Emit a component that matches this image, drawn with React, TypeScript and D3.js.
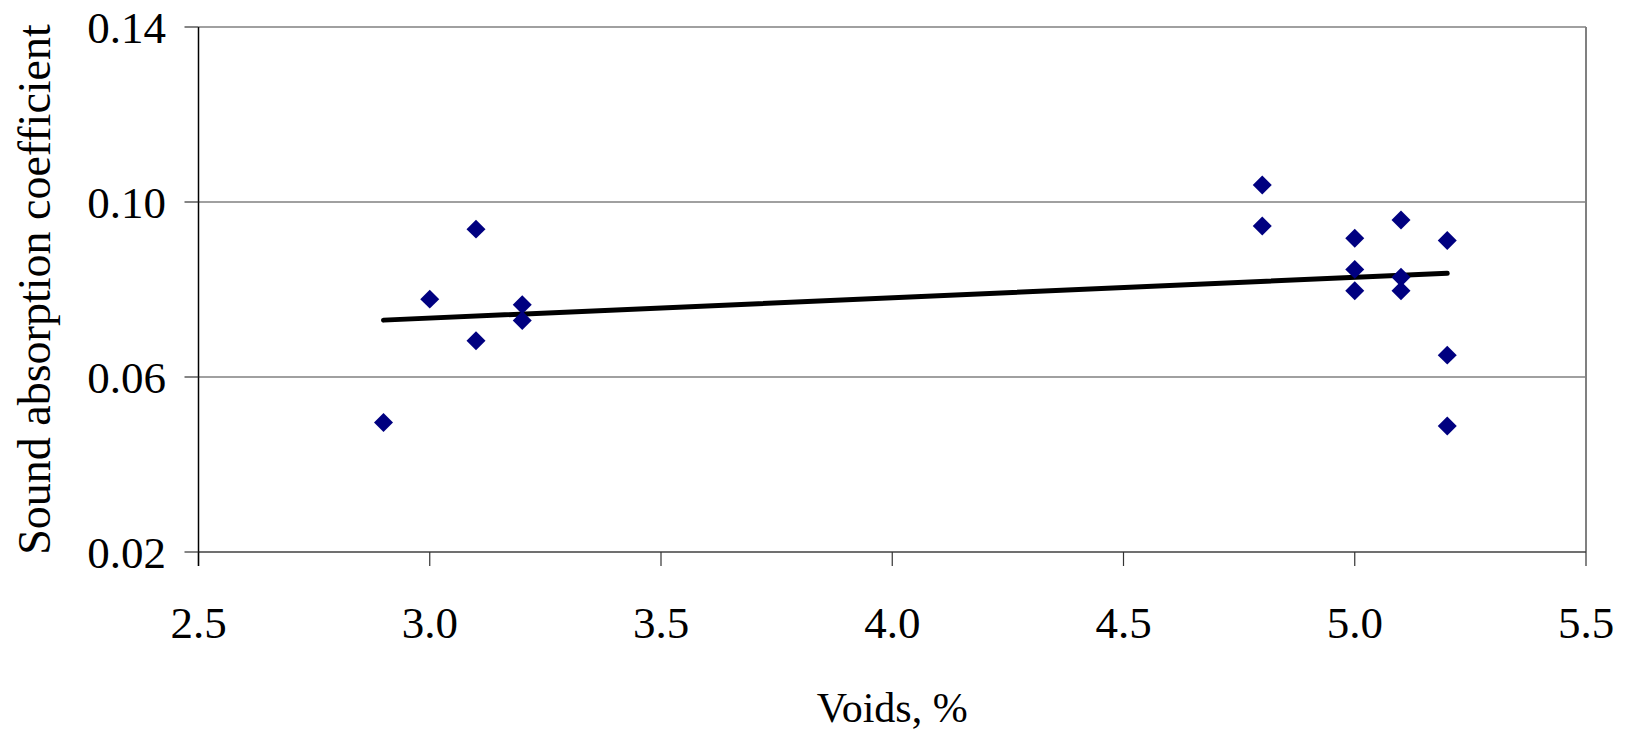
import React from "react";
import * as d3 from "d3";

const voids = [2.9, 3.0, 3.1, 3.1, 3.2, 3.2, 4.8, 4.8, 5.0, 5.0, 5.0, 5.1, 5.1, 5.1, 5.2, 5.2, 5.2];
const absorption = [0.0496, 0.0778, 0.0938, 0.0683, 0.0765, 0.0729, 0.1039, 0.0945, 0.0917, 0.0846, 0.0797, 0.0959, 0.0828, 0.0797, 0.0912, 0.0650, 0.0488];
const trendX = [2.9, 5.2];
const trendY = [0.0730, 0.0837];
const xTicks = [2.5, 3.0, 3.5, 4.0, 4.5, 5.0, 5.5];
const yTicks = [0.02, 0.06, 0.10, 0.14];
const xTitle = "Voids, %";
const yTitle = "Sound absorption coefficient";

const W = 1625;
const H = 730;
const M = { left: 198.5, right: 1586, top: 27, bottom: 552 };
const FONT = "'Liberation Serif', 'Times New Roman', serif";

export default function App() {
  const x = d3.scaleLinear().domain([2.5, 5.5]).range([M.left, M.right]);
  const y = d3.scaleLinear().domain([0.02, 0.14]).range([M.bottom, M.top]);
  const diamond = d3.symbol().type(d3.symbolSquare).size(180)() as string;
  const trend = d3
    .line<number>()
    .x((_, i) => x(trendX[i]))
    .y((d) => y(d))(trendY) as string;

  return (
    <svg
      width={W}
      height={H}
      style={{ position: "absolute", left: 0, top: 0, display: "block", background: "#fff" }}
      fontFamily={FONT}
    >
      <rect x={0} y={0} width={W} height={H} fill="#fff" />
      {yTicks.filter((t) => t > 0.02).map((t) => (
        <line key={"g" + t} x1={M.left} x2={M.right} y1={y(t)} y2={y(t)} stroke="#808080" strokeWidth={1.5} />
      ))}
      <line x1={M.right} x2={M.right} y1={M.top} y2={M.bottom} stroke="#808080" strokeWidth={2} />
      <line x1={M.left} x2={M.right} y1={M.bottom} y2={M.bottom} stroke="#404040" strokeWidth={1.5} />
      {xTicks.map((t) => (
        <g key={"xt" + t}>
          <line x1={x(t)} x2={x(t)} y1={M.bottom} y2={M.bottom + 14} stroke="#333" strokeWidth={1.2} />
          <text x={x(t)} y={638} textAnchor="middle" fontSize={45} fill="#000">
            {t.toFixed(1)}
          </text>
        </g>
      ))}
      <line x1={M.left} x2={M.left} y1={M.top} y2={M.bottom + 14} stroke="#000" strokeWidth={1.5} />
      {yTicks.map((t) => (
        <g key={"yt" + t}>
          <line x1={M.left - 14} x2={M.left} y1={y(t)} y2={y(t)} stroke="#333" strokeWidth={1.2} />
          <text x={166} y={y(t)} dy="0.35em" textAnchor="end" fontSize={45} fill="#000">
            {t.toFixed(2)}
          </text>
        </g>
      ))}
      <path d={trend} fill="none" stroke="#000" strokeWidth={5} strokeLinecap="round" />
      {voids.map((v, i) => (
        <path
          key={"p" + i}
          d={diamond}
          transform={`translate(${x(v)},${y(absorption[i])}) rotate(45)`}
          fill="#000080"
        />
      ))}
      <text x={(M.left + M.right) / 2} y={722} textAnchor="middle" fontSize={42} fill="#000">
        {xTitle}
      </text>
      <text
        transform={`translate(50,${(M.top + M.bottom) / 2}) rotate(-90)`}
        textAnchor="middle"
        fontSize={46}
        fill="#000"
      >
        {yTitle}
      </text>
    </svg>
  );
}
